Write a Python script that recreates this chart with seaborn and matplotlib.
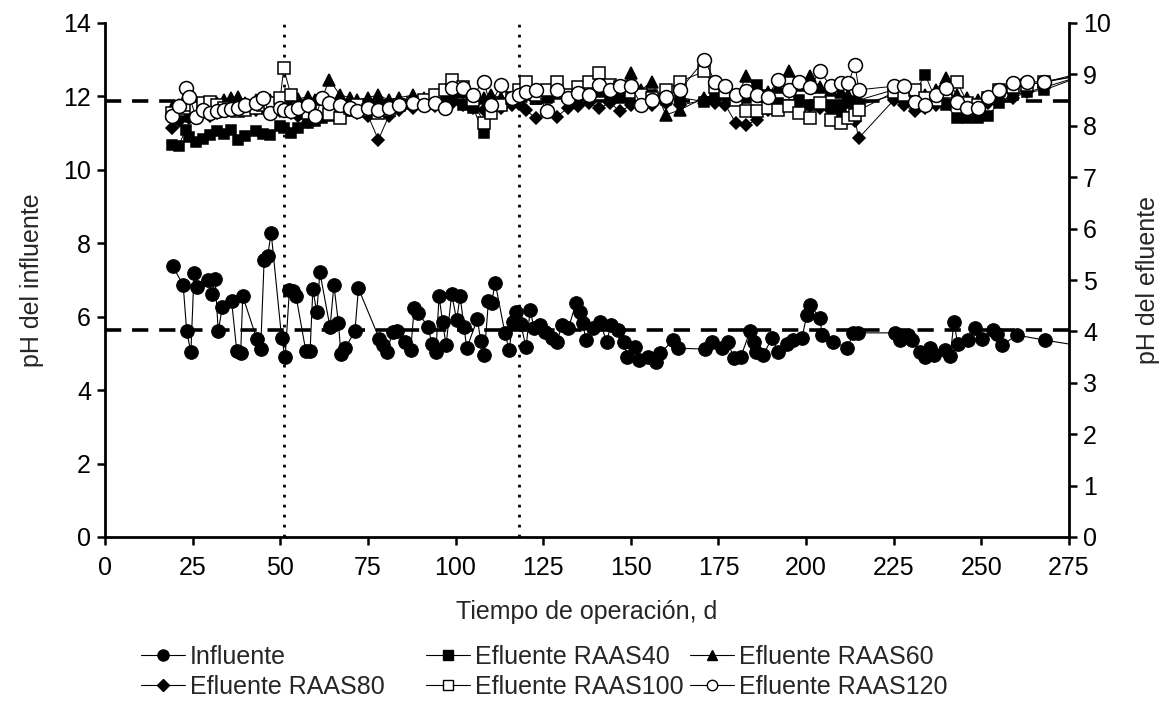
import matplotlib
matplotlib.use("Agg")
import matplotlib.pyplot as plt
from matplotlib.lines import Line2D
import numpy as np
import pandas as pd
import seaborn as sns

# ---------------- data ----------------
dias_inf = [19.3, 22.3, 23.3, 24.5, 25.4, 26.3, 29.5, 30.4, 31.4, 32.3,
            33.5, 36.1, 37.6, 38.7, 39.3, 43.3, 44.4, 45.4, 46.4, 47.4,
            50.4, 51.4, 52.6, 53.6, 54.5, 57.3, 58.5, 59.3, 60.4, 61.3,
            64.2, 65.3, 66.6, 67.3, 68.5, 71.3, 72.3, 78.3, 79.4, 80.4,
            82.1, 83.3, 85.6, 87.2, 88.2, 89.4, 92.2, 93.2, 94.4, 95.3,
            96.3, 97.3, 98.9, 100.3, 101.3, 102.4, 103.2, 106.2, 107.2, 108.2,
            109.4, 110.3, 111.3, 114.1, 115.3, 116.3, 117.3, 118.6, 120.1, 121.3,
            122.4, 124.1, 125.5, 127.4, 129.0, 130.3, 132.2, 134.3, 135.5, 136.3,
            137.2, 139.1, 141.2, 143.1, 144.3, 146.4, 148.1, 148.8, 151.2, 152.2,
            155.0, 157.1, 158.3, 162.1, 163.6, 171.2, 173.1, 176.0, 177.8, 179.3,
            181.4, 184.0, 185.2, 185.7, 187.8, 190.2, 192.1, 194.5, 196.4, 198.8,
            200.2, 201.1, 204.0, 204.5, 207.8, 211.7, 213.5, 214.9, 225.4, 226.8,
            229.2, 230.2, 232.5, 233.9, 235.4, 236.5, 239.7, 241.1, 242.2, 243.2,
            246.3, 248.2, 250.1, 253.3, 254.4, 256.0, 260.1, 268.2, 280.0]
ph_influente = [7.38, 6.86, 5.61, 5.03, 7.18, 6.82, 7.00, 6.62, 7.03, 5.61,
                6.27, 6.44, 5.06, 5.00, 6.56, 5.39, 5.12, 7.55, 7.66, 8.29,
                5.41, 4.89, 6.73, 6.71, 6.56, 5.06, 5.06, 6.75, 6.12, 7.21,
                5.71, 6.86, 5.82, 4.98, 5.14, 5.61, 6.77, 5.39, 5.23, 5.05,
                5.59, 5.61, 5.32, 5.09, 6.23, 6.09, 5.73, 5.27, 5.05, 6.56,
                5.86, 5.23, 6.62, 5.91, 6.56, 5.73, 5.14, 5.93, 5.35, 4.96,
                6.44, 6.38, 6.93, 5.55, 5.09, 5.86, 6.12, 5.80, 5.17, 6.18,
                5.68, 5.77, 5.59, 5.41, 5.32, 5.77, 5.68, 6.36, 6.12, 5.82,
                5.36, 5.68, 5.86, 5.32, 5.77, 5.64, 5.32, 4.91, 5.18, 4.82,
                4.89, 4.77, 5.00, 5.36, 5.14, 5.12, 5.32, 5.14, 5.32, 4.87,
                4.91, 5.61, 5.32, 5.05, 4.96, 5.41, 5.05, 5.27, 5.36, 5.41,
                6.05, 6.32, 5.96, 5.50, 5.32, 5.14, 5.55, 5.56, 5.56, 5.36,
                5.50, 5.36, 5.05, 4.91, 5.14, 4.96, 5.09, 4.93, 5.86, 5.27,
                5.36, 5.68, 5.38, 5.64, 5.52, 5.23, 5.50, 5.36, 5.18]

dias_ef = [19, 21, 23, 24, 26, 28, 30, 32, 34, 36,
           38, 40, 43, 45, 47, 50, 51, 53, 55, 58,
           60, 62, 64, 67, 70, 72, 75, 78, 81, 84,
           88, 91, 94, 97, 99, 102, 105, 108, 110, 113,
           116, 118, 120, 123, 126, 129, 132, 135, 138, 141,
           144, 147, 150, 153, 156, 160, 164, 171, 174, 177,
           180, 183, 186, 189, 192, 195, 198, 201, 204, 207,
           210, 212, 214, 215, 225, 228, 231, 234, 237, 240,
           243, 246, 249, 252, 255, 259, 263, 268, 280]

ph_raas40 = [7.62, 7.61, 7.92, 7.79, 7.69, 7.75, 7.82, 7.89, 7.85, 7.92,
             7.73, 7.80, 7.89, 7.85, 7.82, 7.99, 7.95, 7.86, 7.95, 8.05,
             8.10, 8.15, 8.20, 8.25, 8.28, 8.30, 8.35, 8.38, 8.40, 8.42,
             8.45, 8.48, 8.50, 8.45, 8.52, 8.40, 8.35, 7.86, 8.40, 8.45,
             8.50, 8.55, 8.60, 8.52, 8.55, 8.62, 8.58, 8.55, 8.60, 8.65,
             8.58, 8.55, 8.50, 8.55, 8.60, 8.50, 8.55, 8.47, 8.55, 8.60,
             8.50, 8.55, 8.80, 8.60, 8.45, 8.40, 8.50, 8.40, 8.45, 8.40,
             8.35, 8.44, 8.30, 8.40, 8.60, 8.55, 8.65, 8.99, 8.50, 8.40,
             8.15, 8.15, 8.15, 8.20, 8.45, 8.60, 8.65, 8.70, 9.00]
ph_raas60 = [8.35, 8.40, 8.45, 8.50, 8.40, 8.45, 8.40, 8.45, 8.50, 8.55,
             8.57, 8.45, 8.50, 8.55, 8.50, 8.45, 8.55, 8.50, 8.52, 8.57,
             8.50, 8.55, 8.90, 8.60, 8.55, 8.50, 8.55, 8.60, 8.50, 8.55,
             8.60, 8.55, 8.60, 8.65, 8.70, 8.65, 8.60, 8.55, 8.60, 8.55,
             8.50, 8.62, 8.70, 8.55, 8.60, 8.65, 8.60, 8.70, 8.65, 8.75,
             8.70, 8.65, 9.03, 8.70, 8.86, 8.21, 8.31, 8.55, 8.60, 8.65,
             8.55, 8.96, 8.70, 8.65, 8.75, 9.06, 8.80, 8.96, 8.75, 8.70,
             8.65, 8.60, 8.55, 8.50, 8.70, 8.80, 8.65, 8.60, 8.70, 8.93,
             8.60, 8.55, 8.50, 8.55, 8.60, 8.75, 8.80, 8.85, 9.05]
ph_raas80 = [7.95, 8.10, 8.20, 8.15, 8.20, 8.25, 8.20, 8.25, 8.30, 8.28,
             8.30, 8.32, 8.30, 8.35, 8.30, 8.28, 8.30, 8.25, 8.20, 8.08,
             8.15, 8.25, 8.30, 8.35, 8.30, 8.25, 8.20, 7.73, 8.20, 8.30,
             8.35, 8.40, 8.38, 8.42, 8.45, 8.40, 8.35, 8.30, 8.38, 8.35,
             8.40, 8.42, 8.30, 8.15, 8.30, 8.18, 8.35, 8.38, 8.45, 8.34,
             8.45, 8.28, 8.40, 8.45, 8.40, 8.45, 8.40, 8.50, 8.45, 8.40,
             8.05, 8.02, 8.12, 8.30, 8.35, 8.40, 8.45, 8.38, 8.35, 8.30,
             8.20, 8.15, 8.10, 7.76, 8.50, 8.40, 8.28, 8.35, 8.40, 8.45,
             8.50, 8.45, 8.40, 8.45, 8.50, 8.55, 8.65, 8.75, 9.00]
ph_raas100 = [8.25, 8.30, 8.35, 8.40, 8.35, 8.45, 8.47, 8.40, 8.35, 8.30,
              8.28, 8.30, 8.35, 8.40, 8.45, 8.55, 9.12, 8.60, 8.35, 8.25,
              8.30, 8.28, 8.22, 8.15, 8.35, 8.41, 8.30, 8.25, 8.30, 8.40,
              8.45, 8.50, 8.60, 8.70, 8.90, 8.75, 8.50, 8.05, 8.25, 8.40,
              8.55, 8.70, 8.86, 8.60, 8.70, 8.86, 8.60, 8.75, 8.85, 9.03,
              8.80, 8.75, 8.65, 8.60, 8.55, 8.70, 8.86, 9.06, 8.75, 8.65,
              8.50, 8.28, 8.28, 8.35, 8.30, 8.38, 8.25, 8.15, 8.44, 8.12,
              8.05, 8.15, 8.21, 8.30, 8.65, 8.60, 8.70, 8.55, 8.50, 8.65,
              8.86, 8.45, 8.40, 8.55, 8.70, 8.75, 8.80, 8.85, 9.00]
ph_raas120 = [8.19, 8.38, 8.73, 8.57, 8.17, 8.30, 8.25, 8.28, 8.30, 8.32,
              8.35, 8.40, 8.45, 8.54, 8.25, 8.35, 8.30, 8.28, 8.35, 8.40,
              8.19, 8.54, 8.45, 8.40, 8.35, 8.28, 8.35, 8.30, 8.35, 8.40,
              8.44, 8.40, 8.45, 8.35, 8.73, 8.73, 8.60, 8.86, 8.41, 8.80,
              8.55, 8.60, 8.65, 8.70, 8.28, 8.70, 8.55, 8.64, 8.60, 8.80,
              8.70, 8.77, 8.77, 8.41, 8.50, 8.57, 8.70, 9.28, 8.86, 8.77,
              8.60, 8.67, 8.60, 8.57, 8.90, 8.70, 8.86, 8.75, 9.06, 8.77,
              8.83, 8.83, 9.19, 8.70, 8.77, 8.77, 8.47, 8.41, 8.60, 8.73,
              8.47, 8.35, 8.35, 8.57, 8.70, 8.83, 8.85, 8.86, 9.00]

ref_influente = 5.64
ref_efluente = 8.49
dias_cambio = [51, 118]

etiquetas = ["Influente", "Efluente RAAS40", "Efluente RAAS60",
             "Efluente RAAS80", "Efluente RAAS100", "Efluente RAAS120"]

# ---------------- style ----------------
sns.set_theme(style="white")
plt.rcParams["font.family"] = ["Liberation Sans", "DejaVu Sans"]
FS = 18

fig = plt.figure(figsize=(11.65, 7.11), dpi=100)
ax = fig.add_axes([105 / 1165, 1 - 537 / 711, 964 / 1165, 514 / 711])
ax2 = ax.twinx()

# reference lines
for d in dias_cambio:
    ax.axvline(d, color="black", lw=2.0, ls=(0, (1, 2.6)), zorder=1)
ax.axhline(ref_influente, color="black", lw=2.6, ls=(0, (4.5, 3.0)), zorder=1)
ax2.axhline(ref_efluente, color="black", lw=2.6, ls=(0, (4.5, 3.0)), zorder=1)

# influent
df_inf = pd.DataFrame({"dia": dias_inf, "ph": ph_influente})
sns.lineplot(data=df_inf, x="dia", y="ph", ax=ax, color="black", lw=0.8,
             marker="o", markersize=9.8, markerfacecolor="black",
             markeredgecolor="black", estimator=None, sort=False, zorder=3)

# effluents
estilos = [
    (ph_raas40, "s", 7.5, "black"),
    (ph_raas60, "^", 8.5, "black"),
    (ph_raas80, "D", 6.5, "black"),
    (ph_raas100, "s", 8.5, "white"),
    (ph_raas120, "o", 10.0, "white"),
]
for vals, mk, ms, fc in estilos:
    df = pd.DataFrame({"dia": dias_ef, "ph": vals})
    sns.lineplot(data=df, x="dia", y="ph", ax=ax2, color="black", lw=0.7,
                 marker=mk, markersize=ms, markerfacecolor=fc,
                 markeredgecolor="black", markeredgewidth=1.1,
                 estimator=None, sort=False, zorder=3)

# axes
ax.set_xlim(0, 275)
ax.set_ylim(0, 14)
ax2.set_ylim(0, 10)
ax.set_xticks(np.arange(0, 276, 25))
ax.set_yticks(np.arange(0, 15, 2))
ax2.set_yticks(np.arange(0, 11, 1))
ax.set_xlabel("Tiempo de operación, d", fontsize=FS, labelpad=14)
ax.set_ylabel("pH del influente", fontsize=FS, labelpad=14)
ax2.set_ylabel("pH del efluente", fontsize=FS, labelpad=18)

for a in (ax, ax2):
    a.tick_params(axis="both", labelsize=FS, direction="out", length=6,
                  width=1.8, color="black", labelcolor="black")
    a.spines["top"].set_visible(False)
    for s in a.spines.values():
        s.set_linewidth(2.0)
        s.set_color("black")
ax.spines["right"].set_visible(False)
ax2.spines["left"].set_visible(False)
ax2.spines["bottom"].set_visible(False)
ax.tick_params(axis="x", bottom=True, pad=8)
ax.tick_params(axis="y", left=True, pad=4)
ax2.tick_params(axis="y", right=True, pad=4)

# legend (three columns placed separately)
def h(mk, fc, ms):
    return Line2D([0], [0], color="black", lw=0.8, marker=mk, markersize=ms,
                  markerfacecolor=fc, markeredgecolor="black", markeredgewidth=1.0)

cols = [
    ([h("o", "black", 8), h("D", "black", 6)], [etiquetas[0], etiquetas[3]], 141),
    ([h("s", "black", 7), h("s", "white", 7)], [etiquetas[1], etiquetas[4]], 426),
    ([h("^", "black", 7.5), h("o", "white", 7.5)], [etiquetas[2], etiquetas[5]], 690),
]
for hs, ls, xpx in cols:
    fig.legend(hs, ls, loc="upper left", bbox_to_anchor=(xpx / 1165, 1 - 645 / 711),
               frameon=False, fontsize=FS, handlelength=1.75, handletextpad=0.2,
               labelspacing=0.22, borderpad=0, borderaxespad=0)

fig.savefig("out.png", dpi=100)
